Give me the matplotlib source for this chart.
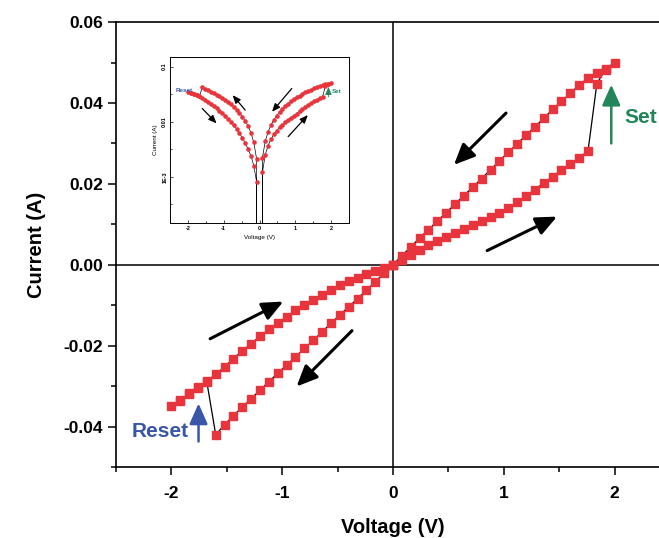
import numpy as np
import matplotlib.pyplot as plt
from matplotlib.ticker import MultipleLocator, FixedLocator, NullFormatter

plt.rcParams['font.family'] = ['Liberation Sans', 'DejaVu Sans']
plt.rcParams['font.weight'] = 'bold'

# forward sweep 0 -> 2 V (high resistance, then set at ~1.8 V)
v_up = [0.00, 0.08, 0.16, 0.24, 0.32, 0.40, 0.48, 0.56, 0.64, 0.72, 0.80, 0.88,
        0.96, 1.04, 1.12, 1.20, 1.28, 1.36, 1.44, 1.52, 1.60, 1.68, 1.76,
        1.84, 1.92, 2.00]
i_up = [0.0000, 0.0012, 0.0025, 0.0037, 0.0048, 0.0059, 0.0069, 0.0079, 0.0089,
        0.0099, 0.0108, 0.0118, 0.0129, 0.0141, 0.0155, 0.0170, 0.0186, 0.0202,
        0.0218, 0.0234, 0.0249, 0.0265, 0.0281,
        0.0448, 0.0484, 0.0500]

# back sweep 2 -> 0 V (low resistance)
v_down = [1.92, 1.84, 1.76, 1.68, 1.60, 1.52, 1.44, 1.36, 1.28, 1.20, 1.12, 1.04,
          0.96, 0.88, 0.80, 0.72, 0.64, 0.56, 0.48, 0.40, 0.32, 0.24, 0.16, 0.08, 0.00]
i_down = [0.0482, 0.0475, 0.0462, 0.0444, 0.0424, 0.0404, 0.0384, 0.0362, 0.0341,
          0.0320, 0.0299, 0.0278, 0.0256, 0.0235, 0.0213, 0.0192, 0.0171, 0.0150,
          0.0129, 0.0108, 0.0087, 0.0066, 0.0044, 0.0022, 0.0000]

# negative sweep 0 -> -2 V (low resistance, reset at ~-1.6 V)
v_neg = [-0.08, -0.16, -0.24, -0.32, -0.40, -0.48, -0.56, -0.64, -0.72, -0.80,
         -0.88, -0.96, -1.04, -1.12, -1.20, -1.28, -1.36, -1.44, -1.52, -1.60,
         -1.68, -1.76, -1.84, -1.92, -2.00]
i_neg = [-0.0021, -0.0042, -0.0063, -0.0084, -0.0104, -0.0124, -0.0145, -0.0166,
         -0.0187, -0.0207, -0.0228, -0.0248, -0.0268, -0.0289, -0.0310, -0.0331,
         -0.0352, -0.0373, -0.0396, -0.0420,
         -0.0290, -0.0305, -0.0320, -0.0335, -0.0350]

# return -2 -> 0 V (high resistance)
v_back = [-1.92, -1.84, -1.76, -1.68, -1.60, -1.52, -1.44, -1.36, -1.28, -1.20,
          -1.12, -1.04, -0.96, -0.88, -0.80, -0.72, -0.64, -0.56, -0.48, -0.40,
          -0.32, -0.24, -0.16, -0.08, 0.00]
i_back = [-0.0336, -0.0318, -0.0302, -0.0288, -0.0271, -0.0252, -0.0232, -0.0213,
          -0.0195, -0.0177, -0.0160, -0.0144, -0.0128, -0.0113, -0.0099, -0.0086,
          -0.0074, -0.0062, -0.0051, -0.0041, -0.0032, -0.0024, -0.0016, -0.0008,
          0.0000]

volt = np.array(v_up + v_down + v_neg + v_back)
curr = np.array(i_up + i_down + i_neg + i_back)

RED = '#e8343c'
GREEN = '#23855a'
BLUE = '#3a56a8'

fig = plt.figure(figsize=(6.59, 5.38), dpi=100)
ax = fig.add_axes([0.176, 0.132, 0.8407, 0.827])

ax.axhline(0, color='k', lw=1.1, zorder=1)
ax.axvline(0, color='k', lw=1.1, zorder=1)
ax.plot(volt, curr, color='k', lw=0.9, zorder=2)
ax.plot(volt, curr, ls='none', marker='s', ms=5.8, mfc=RED, mec=RED, zorder=3)

ax.set_xlim(-2.5, 2.5)
ax.set_ylim(-0.05, 0.06)
ax.xaxis.set_major_locator(MultipleLocator(1))
ax.xaxis.set_minor_locator(MultipleLocator(0.5))
ax.yaxis.set_major_locator(MultipleLocator(0.02))
ax.yaxis.set_minor_locator(MultipleLocator(0.01))
ax.yaxis.set_major_formatter(plt.FormatStrFormatter('%.2f'))
ax.xaxis.set_major_formatter(plt.FormatStrFormatter('%d'))
ax.tick_params(which='major', direction='out', length=6, width=1.1, labelsize=12.5)
ax.tick_params(axis='x', which='major', pad=8)
ax.tick_params(which='minor', direction='out', length=3.5, width=1.1)
for s in ax.spines.values():
    s.set_linewidth(1.2)
ax.set_xlabel('Voltage (V)', fontsize=14.5, fontweight='bold', labelpad=12)
ax.set_ylabel('Current (A)', fontsize=14.5, fontweight='bold', labelpad=12)

# direction arrows
arr = dict(arrowstyle='-|>,head_length=0.9,head_width=0.4', color='k', lw=2.2,
           mutation_scale=14, shrinkA=0, shrinkB=0)
for tail, head in [((1.02, 0.0375), (0.55, 0.0247)),
                   ((0.85, 0.0035), (1.48, 0.0119)),
                   ((-1.65, -0.0183), (-0.99, -0.0091)),
                   ((-0.37, -0.0163), (-0.87, -0.0301))]:
    ax.annotate('', xy=head, xytext=tail, arrowprops=arr)

ax.annotate('', xy=(1.97, 0.0445), xytext=(1.97, 0.0300),
            arrowprops=dict(arr, color=GREEN, lw=1.8))
ax.text(2.09, 0.0363, 'Set', color=GREEN, fontsize=15, fontweight='bold',
        ha='left', va='center')
ax.annotate('', xy=(-1.755, -0.0343), xytext=(-1.755, -0.0437),
            arrowprops=dict(arr, color=BLUE, lw=1.8))
ax.text(-2.36, -0.0412, 'Reset', color=BLUE, fontsize=15, fontweight='bold',
        ha='left', va='center')

# inset: same loop on log scale
ins = fig.add_axes([0.258, 0.5855, 0.2716, 0.3086])
ins.plot(volt, np.abs(curr), color='k', lw=0.5, zorder=2)
ins.plot(volt, np.abs(curr), ls='none', marker='o', ms=2.3, mfc=RED, mec=RED, zorder=3)
ins.set_yscale('log')
ins.set_xlim(-2.5, 2.5)
ins.set_ylim(1.45e-4, 0.15)
ins.yaxis.set_major_locator(FixedLocator([1e-3, 1e-2, 1e-1]))
ins.yaxis.set_minor_locator(FixedLocator([3.16e-4, 3.16e-3, 3.16e-2]))
ins.yaxis.set_minor_formatter(NullFormatter())
ins.set_yticklabels(['1E-3', '0.01', '0.1'], rotation=90, va='center')
ins.xaxis.set_major_locator(MultipleLocator(1))
ins.xaxis.set_minor_locator(MultipleLocator(0.5))
ins.xaxis.set_major_formatter(plt.FormatStrFormatter('%d'))
ins.tick_params(which='major', direction='in', length=2.5, width=0.5, labelsize=4, pad=2)
ins.tick_params(which='minor', direction='in', length=1.5, width=0.5)
for s in ins.spines.values():
    s.set_linewidth(0.7)
ins.set_xlabel('Voltage (V)', fontsize=4.5, labelpad=3)
ins.set_ylabel('Current (A)', fontsize=4.5, labelpad=3)

sarr = dict(arrowstyle='-|>,head_length=0.6,head_width=0.25', color='k', lw=0.9,
            mutation_scale=8, shrinkA=0, shrinkB=0)
for tail, head in [((0.18, 0.69), (0.26, 0.60)),
                   ((0.42, 0.68), (0.35, 0.77)),
                   ((0.68, 0.81), (0.57, 0.67)),
                   ((0.66, 0.52), (0.77, 0.65))]:
    ins.annotate('', xy=head, xytext=tail, xycoords='axes fraction',
                 textcoords='axes fraction', arrowprops=sarr)
ins.text(0.03, 0.80, 'Reset', transform=ins.transAxes, color=BLUE, fontsize=4.5,
         fontweight='bold', va='center')
ins.annotate('', xy=(0.885, 0.82), xytext=(0.885, 0.76), xycoords='axes fraction',
             textcoords='axes fraction', arrowprops=dict(sarr, color=GREEN, lw=0.6))
ins.text(0.905, 0.79, 'Set', transform=ins.transAxes, color=GREEN, fontsize=4.5,
         fontweight='bold', va='center')

plt.savefig('out.png', dpi=100)
